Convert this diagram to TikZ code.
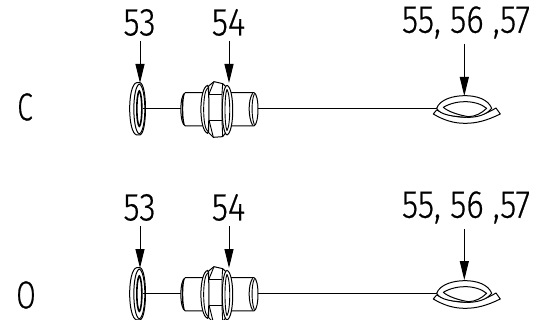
\documentclass[tikz,border=0pt]{standalone}
\usepackage{fontspec}
\setmainfont[FakeBold=0.6]{Fira Sans Light}
\usetikzlibrary{arrows.meta}
\tikzset{
  part/.style={line width=1pt,draw=black,fill=white,line join=round},
  thin part/.style={line width=0.9pt,draw=black,line join=round},
  wire/.style={line width=0.9pt,draw=black},
  label/.style={inner sep=0pt,font=\fontsize{39}{39}\selectfont,xscale=0.85,text=black},
  letter/.style={inner sep=0pt,font=\fontsize{39}{39}\selectfont,xscale=0.72,text=black},
  lead/.style={line width=1pt,-{Triangle[length=19pt,width=9pt]}},
  pics/fitting/.style={code={
    % washer
    \draw[part] (80,248) .. controls (52,254) and (52,398) .. (80,405) -- (90,405)
       .. controls (112,398) and (112,254) .. (90,248) -- cycle;
    \draw[part] (88,252) .. controls (66,262) and (66,392) .. (88,402)
       .. controls (110,392) and (110,262) .. (88,252) -- cycle;
    \draw[part,line width=1.6pt,fill=none] (88,272) .. controls (78,285) and (78,368) .. (88,380)
       .. controls (98,368) and (98,285) .. (88,272) -- cycle;
    \draw[wire] (98,326) -- (215,326);
    % bodies
    \draw[wire] (445,326) -- (1000,326);
    \draw[part] (226,278) -- (432,278) .. controls (448,282) and (448,372) .. (432,378)
       -- (226,378) .. controls (208,372) and (208,284) .. (226,278) -- cycle;
    \draw[part,line width=1.4pt,fill=none] (222,282) .. controls (216,300) and (216,352) .. (222,374);
    \draw[part,fill=none] (428,280) .. controls (414,300) and (414,352) .. (428,376);
    \draw[thin part] (433,282) .. controls (424,300) and (424,352) .. (433,374);
    % nut
    \draw[part] (312,245) -- (338,251) -- (350,262) -- (350,395) -- (338,410) -- (310,412)
       -- (296,398) -- (296,258) -- cycle;
    \draw[thin part] (297,282) -- (336,282);
    \draw[thin part] (297,360) -- (336,360);
    \draw[thin part] (312,245) -- (297,282);
    \draw[thin part] (310,412) -- (297,360);
    \draw[thin part] (338,251) -- (336,282) -- (336,360) -- (338,410);
    % washers either side of the nut
    \draw[part] (293,256) .. controls (266,264) and (266,392) .. (293,400)
       .. controls (298,392) and (298,264) .. (293,256) -- cycle;
    \draw[thin part] (293,264) .. controls (277,275) and (277,382) .. (293,394);
    \draw[part] (351,256) .. controls (332,264) and (332,396) .. (351,405)
       .. controls (374,396) and (374,264) .. (351,256) -- cycle;
    \draw[thin part] (351,268) .. controls (343,285) and (343,375) .. (351,392)
       .. controls (362,375) and (362,285) .. (351,268) -- cycle;
    % loop
    \begin{scope}[shift={(840,0)}]
      \draw[part] (130,342) -- (140,330) .. controls (170,345) and (190,350) .. (225,352)
         .. controls (260,350) and (290,342) .. (318,324) -- (331,342)
         .. controls (290,362) and (260,370) .. (225,370) .. controls (190,370) and (160,360) .. (130,342) -- cycle;
      \draw[part] (140,325) .. controls (150,298) and (190,287) .. (225,287)
         .. controls (260,287) and (295,298) .. (305,325)
         .. controls (290,345) and (260,352) .. (235,352)
         .. controls (190,350) and (150,345) .. (140,325) -- cycle;
      \draw[part,fill=none] (160,322) .. controls (180,310) and (205,305) .. (225,305)
         .. controls (250,305) and (275,312) .. (290,325)
         .. controls (275,340) and (255,350) .. (235,350)
         .. controls (205,345) and (175,335) .. (160,322) -- cycle;
    \end{scope}
  }}
}
\begin{document}
\begin{tikzpicture}[x=1pt,y=-1pt]
\useasboundingbox (0,0) rectangle (537,320);
\fill[white] (0,0) rectangle (537,320);
\begin{scope}[shift={(110,0)},x=0.3333pt,y=-0.3333pt]
  \pic {fitting};
\end{scope}
\begin{scope}[shift={(110,185)},x=0.3333pt,y=-0.3333pt]
  \pic {fitting};
\end{scope}
\node[label] (a53) at (139.5,22.5) {53};
\node[label] (a54) at (228.5,22.5) {54};
\node[label] (a55) at (466,22.5) {55, 56 ,57};
\node[label] (b53) at (139.5,207.5) {53};
\node[label] (b54) at (228.5,207.5) {54};
\node[label] (b55) at (466,207.5) {55, 56 ,57};
\node[letter] (c) at (25,107) {C};
\node[letter] (o) at (26,295) {O};
\coordinate (ah53) at (140,83); \coordinate (at53) at (140,41);
\coordinate (ah54) at (229,83); \coordinate (at54) at (229,41);
\coordinate (ah55) at (464.3,96); \coordinate (at55) at (464.3,44);
\coordinate (bh53) at (140,268); \coordinate (bt53) at (140,226);
\coordinate (bh54) at (229,268); \coordinate (bt54) at (229,226);
\coordinate (bh55) at (464.3,280); \coordinate (bt55) at (464.3,229);
\draw[lead] (at53) -- (ah53);
\draw[lead] (at54) -- (ah54);
\draw[lead] (at55) -- (ah55);
\draw[lead] (bt53) -- (bh53);
\draw[lead] (bt54) -- (bh54);
\draw[lead] (bt55) -- (bh55);
\end{tikzpicture}
\end{document}
